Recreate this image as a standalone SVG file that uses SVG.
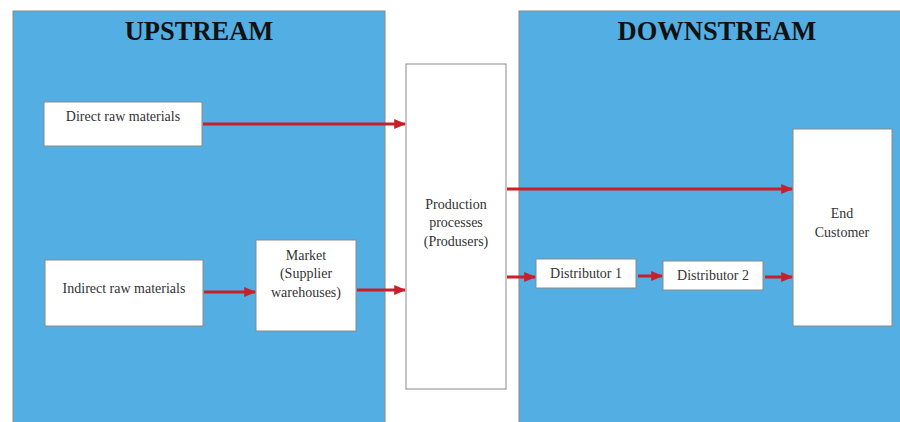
<svg xmlns="http://www.w3.org/2000/svg" width="900" height="422" viewBox="0 0 900 422">
<style>
.panel{fill:#52AEE3;stroke:#8a8a8a;stroke-width:1}
.box{fill:#ffffff;stroke:#8a8a8a;stroke-width:1}
.title{font-family:"Liberation Serif",serif;font-weight:bold;font-size:26.5px;fill:#111;text-anchor:middle}
.lbl{font-family:"Liberation Serif",serif;font-size:14px;fill:#333;text-anchor:middle}
.arr{stroke:#C8202A;stroke-width:3;fill:none;marker-end:url(#ah)}
</style>
<defs>
<marker id="ah" markerWidth="4" markerHeight="4" refX="3.6" refY="2" orient="auto" markerUnits="strokeWidth">
<path d="M0,0.3 L4,2 L0,3.7 Z" fill="#C8202A"/>
</marker>
</defs>
<rect width="900" height="422" fill="#ffffff"/>
<g id="upstream">
<rect class="panel" x="13" y="11" width="372" height="420"/>
<text class="title" x="199" y="40">UPSTREAM</text>
</g>
<g id="downstream">
<rect class="panel" x="519" y="11" width="400" height="420"/>
<text class="title" x="717" y="40">DOWNSTREAM</text>
</g>
<g id="direct">
<rect class="box" x="44" y="102" width="158" height="44"/>
<text class="lbl" x="123" y="121">Direct raw materials</text>
</g>
<g id="indirect">
<rect class="box" x="45" y="260" width="158" height="66"/>
<text class="lbl" x="124" y="293">Indirect raw materials</text>
</g>
<g id="market">
<rect class="box" x="256" y="240" width="100" height="91"/>
<text class="lbl" x="306" y="260">Market</text>
<text class="lbl" x="306" y="278">(Supplier</text>
<text class="lbl" x="306" y="297">warehouses)</text>
</g>
<g id="production">
<rect class="box" x="406" y="64" width="100" height="325"/>
<text class="lbl" x="456" y="209">Production</text>
<text class="lbl" x="456" y="227">processes</text>
<text class="lbl" x="456" y="246">(Produsers)</text>
</g>
<g id="dist1">
<rect class="box" x="536" y="259" width="100" height="29"/>
<text class="lbl" x="586" y="278">Distributor 1</text>
</g>
<g id="dist2">
<rect class="box" x="663" y="261" width="100" height="29"/>
<text class="lbl" x="713" y="280">Distributor 2</text>
</g>
<g id="endcustomer">
<rect class="box" x="793" y="129" width="99" height="197"/>
<text class="lbl" x="842" y="218">End</text>
<text class="lbl" x="842" y="237">Customer</text>
</g>
<g id="connectors">
<line class="arr" x1="203" y1="124" x2="405" y2="124"/>
<line class="arr" x1="204" y1="292" x2="255" y2="292"/>
<line class="arr" x1="357" y1="290" x2="405" y2="290"/>
<line class="arr" x1="507" y1="189" x2="792" y2="189"/>
<line class="arr" x1="507" y1="277" x2="535" y2="277"/>
<line class="arr" x1="638" y1="276" x2="662" y2="276"/>
<line class="arr" x1="765" y1="277" x2="792" y2="277"/>
</g>
</svg>
